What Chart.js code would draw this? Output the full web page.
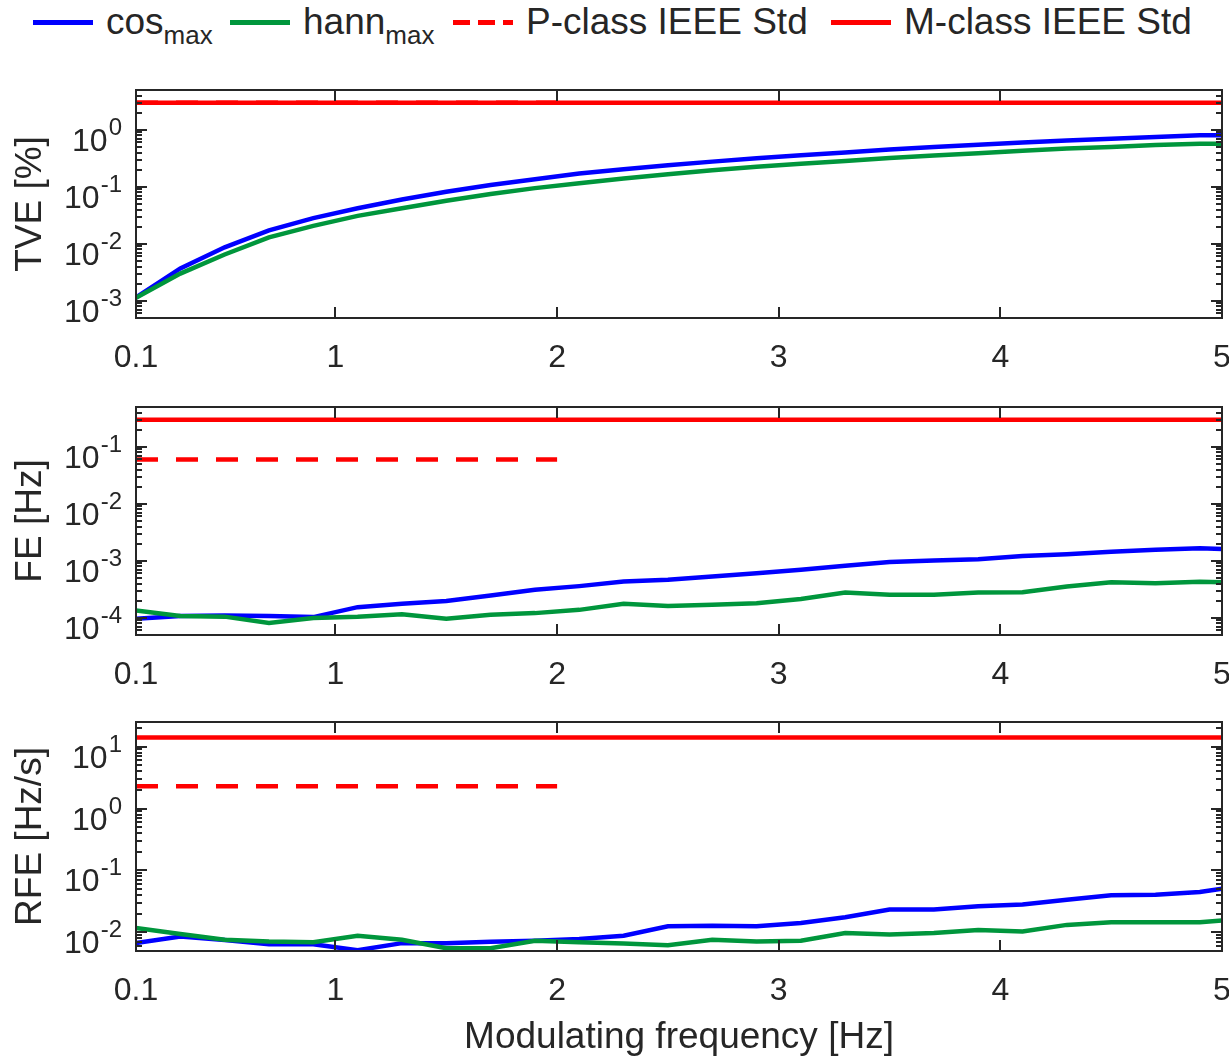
<!DOCTYPE html>
<html lang="en">
<head>
<meta charset="utf-8" />
<title>TVE / FE / RFE vs modulating frequency</title>
<style>
body{margin:0;background:#fff;}
#fig{position:relative;width:1229px;height:1056px;background:#fff;overflow:hidden;
  font-family:"Liberation Sans",Arial,Helvetica,sans-serif;color:#262626;}
#fig canvas{position:absolute;left:0;}

/* legend */
.key{position:absolute;top:0;height:44px;display:flex;align-items:center;gap:13px;font-size:37px;line-height:44px;white-space:nowrap;}
.key sub{font-size:26px;line-height:0;vertical-align:-10px;}
.swatch{display:inline-block;width:60px;height:5px;}
</style>
</head>
<body>
<div id="fig">
  <div class="key" style="left:33px"><span class="swatch" style="background:#0000ff"></span><span>cos<sub>max</sub></span></div>
  <div class="key" style="left:230px"><span class="swatch" style="background:#00963c"></span><span>hann<sub>max</sub></span></div>
  <div class="key" style="left:453px"><span class="swatch" style="background:repeating-linear-gradient(to right,#ff0000 0 17px,transparent 17px 25px)"></span><span>P-class IEEE Std</span></div>
  <div class="key" style="left:831px"><span class="swatch" style="background:#ff0000"></span><span>M-class IEEE Std</span></div>

  <canvas id="tve" width="1229" height="320" style="top:60px"></canvas>
  <canvas id="fe"  width="1229" height="316" style="top:380px"></canvas>
  <canvas id="rfe" width="1229" height="360" style="top:696px"></canvas>
</div>

<script src="https://cdn.jsdelivr.net/npm/chart.js@4.4.1"></script>
<script>
/* ---------- data ---------- */
const freq = [0.1,0.3,0.5,0.7,0.9,1.1,1.3,1.5,1.7,1.9,2.1,2.3,2.5,2.7,2.9,3.1,3.3,3.5,3.7,3.9,4.1,4.3,4.5,4.7,4.9,5.0];

const tveCos  = [0.00115,0.0037,0.0087,0.0172,0.0282,0.042,0.060,0.082,0.108,0.136,0.171,0.203,0.239,0.277,0.316,0.36,0.40,0.45,0.50,0.55,0.60,0.65,0.70,0.75,0.80,0.80];
const tveHann = [0.00113,0.0030,0.0065,0.013,0.0207,0.031,0.042,0.057,0.075,0.095,0.116,0.14,0.166,0.195,0.226,0.255,0.285,0.32,0.355,0.39,0.43,0.47,0.50,0.54,0.57,0.57];

const feCos  = [9.6e-5,1.08e-4,1.1e-4,1.08e-4,1.03e-4,1.54e-4,1.76e-4,1.98e-4,2.46e-4,3.1e-4,3.6e-4,4.34e-4,4.64e-4,5.3e-4,6.08e-4,6.95e-4,8.17e-4,9.5e-4,1.01e-3,1.07e-3,1.22e-3,1.31e-3,1.44e-3,1.56e-3,1.67e-3,1.62e-3];
const feHann = [1.34e-4,1.08e-4,1.05e-4,8.1e-5,9.9e-5,1.05e-4,1.16e-4,9.6e-5,1.13e-4,1.21e-4,1.38e-4,1.76e-4,1.62e-4,1.69e-4,1.81e-4,2.15e-4,2.78e-4,2.53e-4,2.53e-4,2.78e-4,2.82e-4,3.55e-4,4.22e-4,4.06e-4,4.28e-4,4.22e-4];

const rfeCos  = [6.7e-3,8.6e-3,7.5e-3,6.4e-3,6.4e-3,5.15e-3,6.7e-3,6.7e-3,7.05e-3,7.3e-3,7.8e-3,8.8e-3,1.25e-2,1.28e-2,1.25e-2,1.42e-2,1.76e-2,2.34e-2,2.34e-2,2.65e-2,2.83e-2,3.37e-2,3.96e-2,4.06e-2,4.49e-2,5.09e-2];
const rfeHann = [1.18e-2,9.4e-3,7.6e-3,7.1e-3,6.9e-3,8.8e-3,7.6e-3,5.55e-3,5.55e-3,7.3e-3,6.9e-3,6.6e-3,6.2e-3,7.6e-3,7.1e-3,7.3e-3,9.75e-3,9.2e-3,9.75e-3,1.09e-2,1.03e-2,1.32e-2,1.46e-2,1.46e-2,1.46e-2,1.55e-2];

/* IEEE limits: [P-class, M-class]; P-class only drawn up to pClassEnd */
const tveLimits = [3, 3];
const feLimits  = [0.06, 0.3];
const rfeLimits = [2.3, 14];
const pClassEnd = 2;

const xTicks = [0.1, 1, 2, 3, 4, 5];
const xTickLabels = ['0.1', '1', '2', '3', '4', '5'];

/* ---------- style ---------- */
const FONT = '"Liberation Sans", Arial, Helvetica, sans-serif';
const AXIS = '#262626';
const BLUE = '#0000ff', GREEN = '#00963c', RED = '#ff0000';
const TICK_PX = 32, SUP_PX = 24, TITLE_PX = 37;
const MAJOR = 11, MINOR = 6;

Chart.defaults.animation = false;

/* draws the MATLAB-like box, inward ticks, tick labels and titles */
function axesPlugin(yTitle, xTitle){
    return {
        id: 'matlabAxes',
        afterDatasetsDraw(chart){
            const {ctx, chartArea:a} = chart;
            const xs = chart.scales.x, ys = chart.scales.y;
            ctx.save();
            ctx.strokeStyle = AXIS; ctx.fillStyle = AXIS; ctx.lineWidth = 2;

            ctx.beginPath();
            xTicks.forEach(v=>{
                const px = Math.round(xs.getPixelForValue(v));
                ctx.moveTo(px, a.bottom); ctx.lineTo(px, a.bottom - MAJOR);
                ctx.moveTo(px, a.top);    ctx.lineTo(px, a.top + MAJOR);
            });
            const lo = Math.floor(Math.log10(ys.min)), hi = Math.ceil(Math.log10(ys.max));
            const decades = [];
            for (let k=lo;k<=hi;k++){
                for (let m=1;m<=9;m++){
                    const v = m*Math.pow(10,k);
                    if (v < ys.min*0.999 || v > ys.max*1.001) continue;
                    const py = Math.round(ys.getPixelForValue(v));
                    const len = m===1 ? MAJOR : MINOR;
                    ctx.moveTo(a.left, py);  ctx.lineTo(a.left + len, py);
                    ctx.moveTo(a.right, py); ctx.lineTo(a.right - len, py);
                    if (m===1) decades.push({k, py});
                }
            }
            ctx.stroke();
            ctx.strokeRect(a.left, a.top, a.right - a.left, a.bottom - a.top);

            /* x tick labels */
            ctx.font = `${TICK_PX}px ${FONT}`;
            ctx.textAlign = 'center'; ctx.textBaseline = 'alphabetic';
            xTicks.forEach((v,i)=>{
                ctx.fillText(xTickLabels[i], xs.getPixelForValue(v), a.bottom + 49);
            });

            /* y tick labels 10^k */
            ctx.textAlign = 'left';
            decades.forEach(({k,py})=>{
                const sup = String(k);
                ctx.font = `${TICK_PX}px ${FONT}`;
                const wb = ctx.measureText('10').width;
                ctx.font = `${SUP_PX}px ${FONT}`;
                const ws = ctx.measureText(sup).width;
                const x0 = a.left - 15 - ws - wb;
                ctx.font = `${TICK_PX}px ${FONT}`;
                ctx.fillText('10', x0, py + 21);
                ctx.font = `${SUP_PX}px ${FONT}`;
                ctx.fillText(sup, x0 + wb + 1, py + 5);
            });

            /* y title */
            ctx.font = `${TITLE_PX}px ${FONT}`;
            ctx.save();
            ctx.translate(41, (a.top + a.bottom)/2);
            ctx.rotate(-Math.PI/2);
            ctx.textAlign = 'center';
            ctx.fillText(yTitle, 0, 0);
            ctx.restore();

            /* x title */
            if (xTitle){
                ctx.textAlign = 'center';
                ctx.fillText(xTitle, (a.left + a.right)/2, a.bottom + 97);
            }
            ctx.restore();
        }
    };
}

function makePanel({canvasId, cos, hann, limits, yMin, yMax, yTitle, xTitle, padTop, padBottom}){
    const pts = arr => freq.map((f,i)=>({x:f, y:arr[i]}));
    new Chart(document.getElementById(canvasId), {
        type: 'line',
        data: {
            datasets: [
                {label:'cos max',  data:pts(cos),  borderColor:BLUE,  borderWidth:4.5, order:4},
                {label:'hann max', data:pts(hann), borderColor:GREEN, borderWidth:4.5, order:3},
                {label:'P-class IEEE Std', data:[{x:freq[0],y:limits[0]},{x:pClassEnd,y:limits[0]}],
                 borderColor:RED, borderWidth:4.5, borderDash:[22,18], order:2},
                {label:'M-class IEEE Std', data:[{x:freq[0],y:limits[1]},{x:freq[freq.length-1],y:limits[1]}],
                 borderColor:RED, borderWidth:4.5, order:1}
            ]
        },
        options: {
            responsive:false,
            maintainAspectRatio:false,
            layout:{padding:{left:136, right:7, top:padTop, bottom:padBottom}},
            elements:{point:{radius:0}, line:{tension:0, fill:false}},
            plugins:{legend:{display:false}, tooltip:{enabled:false}},
            scales:{
                x:{type:'linear', min:0.1, max:5,
                   grid:{display:false, drawTicks:false}, border:{display:false}, ticks:{display:false}},
                y:{type:'logarithmic', min:yMin, max:yMax,
                   grid:{display:false, drawTicks:false}, border:{display:false}, ticks:{display:false}}
            }
        },
        plugins:[axesPlugin(yTitle, xTitle)]
    });
}

makePanel({canvasId:'tve', cos:tveCos, hann:tveHann, limits:tveLimits, yMin:5e-4, yMax:5,
           yTitle:'TVE [%]', padTop:30, padBottom:62});
makePanel({canvasId:'fe', cos:feCos, hann:feHann, limits:feLimits, yMin:5e-5, yMax:0.5,
           yTitle:'FE [Hz]', padTop:27, padBottom:61});
makePanel({canvasId:'rfe', cos:rfeCos, hann:rfeHann, limits:rfeLimits, yMin:5e-3, yMax:25,
           yTitle:'RFE [Hz/s]', xTitle:'Modulating frequency [Hz]', padTop:26, padBottom:105});
</script>
</body>
</html>
